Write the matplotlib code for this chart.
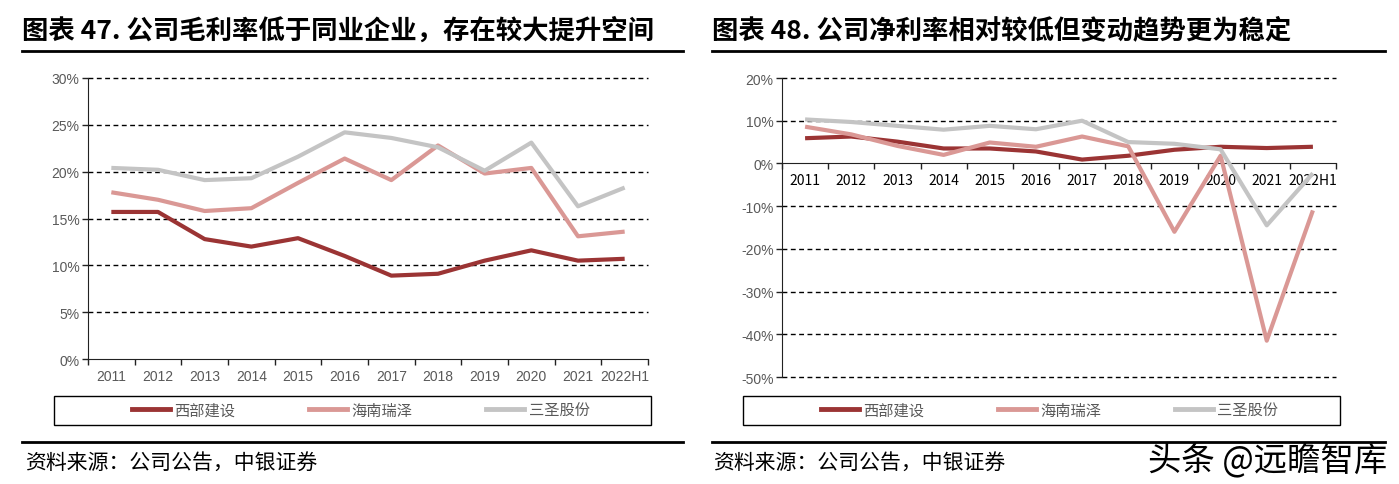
import matplotlib
matplotlib.use("Agg")
import matplotlib.pyplot as plt
from matplotlib.patches import Rectangle
from matplotlib.lines import Line2D

plt.rcParams['font.family'] = ['Noto Sans CJK SC', 'DejaVu Sans']

# 数据
years = ['2011', '2012', '2013', '2014', '2015', '2016', '2017', '2018', '2019', '2020', '2021', '2022H1']
names = ['西部建设', '海南瑞泽', '三圣股份']
colors = ['#9B3434', '#DA9895', '#C4C4C4']

# 毛利率 (%)
gross_xibu = [15.7, 15.7, 12.8, 12.0, 12.9, 11.0, 8.9, 9.1, 10.5, 11.6, 10.5, 10.7]
gross_hainan = [17.8, 17.0, 15.8, 16.1, 18.8, 21.4, 19.1, 22.8, 19.8, 20.4, 13.1, 13.6]
gross_sansheng = [20.4, 20.2, 19.1, 19.3, 21.6, 24.2, 23.6, 22.6, 20.1, 23.1, 16.3, 18.3]

# 净利率 (%)
net_xibu = [5.9, 6.3, 5.1, 3.5, 3.5, 2.8, 0.9, 1.8, 3.2, 3.9, 3.6, 3.9]
net_hainan = [8.6, 6.8, 4.1, 2.0, 4.9, 3.9, 6.3, 4.0, -16.0, 1.8, -41.5, -11.0]
net_sansheng = [10.3, 9.7, 8.8, 7.9, 8.8, 8.0, 10.0, 5.0, 4.6, 3.3, -14.5, -2.3]

gross_ticks = [0, 5, 10, 15, 20, 25, 30]
net_ticks = [-50, -40, -30, -20, -10, 0, 10, 20]

W, H = 1399, 485
fig = plt.figure(figsize=(W / 100, H / 100), dpi=100)


def box(x0, y0, x1, y1):
    # 像素坐标 -> figure坐标
    return [x0 / W, 1 - y1 / H, (x1 - x0) / W, (y1 - y0) / H]


tick_color = '#595959'
tick_font = ['Liberation Sans Narrow', 'Liberation Sans', 'DejaVu Sans']


def draw_panel(rect, series, ticks, ymin, ymax, zero_axis):
    ax = fig.add_axes(rect)
    x = list(range(len(years)))
    for vals, c in zip(series, colors):
        ax.plot(x, vals, color=c, lw=3, solid_capstyle='butt', zorder=3)
    ax.set_xlim(-0.5, len(years) - 0.5)
    ax.set_ylim(ymin, ymax)
    ax.set_yticks(ticks)
    ax.set_yticklabels([f'{t}%' for t in ticks], family=tick_font, fontsize=10, color=tick_color)
    ax.set_xticks(x)
    ax.set_xticklabels(years, family=tick_font, fontsize=10, color=tick_color)
    ax.set_xticks([i - 0.5 for i in range(len(years) + 1)], minor=True)
    ax.tick_params(axis='x', which='major', length=0, pad=7)
    ax.tick_params(axis='x', which='minor', length=4, width=1, color='#222222')
    ax.tick_params(axis='y', length=4, width=1, color='#222222', pad=2)
    for t in ticks:
        if t != 0:
            ax.axhline(t, color='black', lw=1, ls=(0, (3.5, 2.5)), zorder=1, clip_on=False)
    ax.spines['top'].set_visible(False)
    ax.spines['right'].set_visible(False)
    ax.spines['left'].set_color('#222222')
    ax.spines['bottom'].set_color('#222222')
    if zero_axis:
        ax.spines['bottom'].set_position(('data', 0))
    ax.patch.set_alpha(0)
    return ax


draw_panel(box(88, 79, 648, 360), [gross_xibu, gross_hainan, gross_sansheng],
           gross_ticks, 0, 30, False)
draw_panel(box(782, 79, 1336, 378), [net_xibu, net_hainan, net_sansheng],
           net_ticks, -50, 20, True)

# 标题
fig.text(22 / W, 1 - 31 / H, '图表 47. 公司毛利率低于同业企业，存在较大提升空间',
         fontsize=19, fontweight='bold', va='center', ha='left')
fig.text(712 / W, 1 - 31 / H, '图表 48. 公司净利率相对较低但变动趋势更为稳定',
         fontsize=19, fontweight='bold', va='center', ha='left')
for x0, x1 in [(22, 683), (712, 1385)]:
    fig.add_artist(Line2D([x0 / W, x1 / W], [1 - 52 / H, 1 - 52 / H], color='black', lw=2))
    fig.add_artist(Line2D([x0 / W, x1 / W], [1 - 443 / H, 1 - 443 / H], color='black', lw=2))

# 图例
handles = [Line2D([], [], color=c, lw=3.5) for c in colors]
for x0, x1 in [(54, 651), (743, 1340)]:
    fig.add_artist(Rectangle((x0 / W, 1 - 426 / H), (x1 - x0) / W, 29 / H,
                             transform=fig.transFigure, fill=False, ec='black', lw=1))
    leg = fig.legend(handles, names, loc='center', ncol=3, frameon=False,
                     bbox_to_anchor=((x0 + x1) / 2 / W + 8 / W, 1 - 411 / H),
                     fontsize=11, handlelength=2.5, handletextpad=0.3, columnspacing=4.8,
                     labelcolor='#595959')

# 资料来源
for x0 in [25, 713]:
    fig.text(x0 / W, 1 - 463 / H, '资料来源：公司公告，中银证券', fontsize=15,
             style='italic', va='center', ha='left')

# 水印
fig.text(1387 / W, 1 - 461 / H, '头条 @远瞻智库', fontsize=24, va='center', ha='right',
         color='black')

fig.savefig('out.png', dpi=100)
